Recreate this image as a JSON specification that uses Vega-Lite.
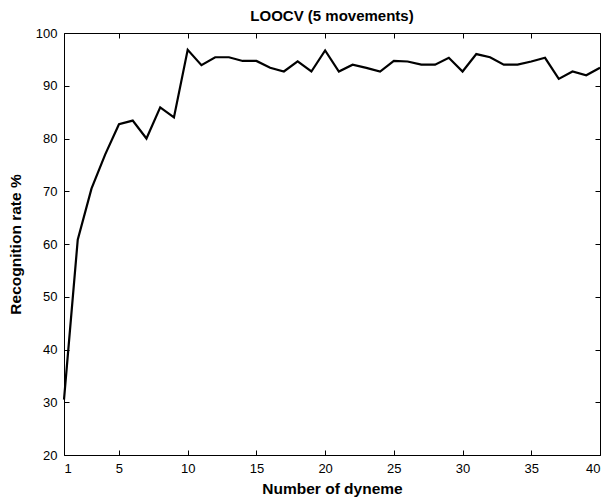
{
  "$schema": "https://vega.github.io/schema/vega-lite/v6.json",
  "autosize": "none",
  "width": 536,
  "height": 422,
  "padding": {"left": 64, "top": 33, "right": 7, "bottom": 45},
  "background": "white",
  "title": {"text": "LOOCV (5 movements)", "font": "Liberation Sans", "fontSize": 15, "fontWeight": "bold", "color": "black", "offset": 3},
  "config": {
    "view": {"stroke": "black", "strokeWidth": 1},
    "axis": {"grid": false, "domain": false, "tickColor": "black", "labelColor": "black", "titleColor": "black", "labelFont": "Liberation Sans", "labelFontSize": 13, "titleFont": "Liberation Sans", "titleFontSize": 15.5, "titleFontWeight": "bold", "tickSize": 5, "offset": -5}
  },
  "data": {"values": [
    {"n": 1, "rate": 30.5},
    {"n": 2, "rate": 60.8},
    {"n": 3, "rate": 70.5},
    {"n": 4, "rate": 77},
    {"n": 5, "rate": 82.7},
    {"n": 6, "rate": 83.4},
    {"n": 7, "rate": 80},
    {"n": 8, "rate": 85.9},
    {"n": 9, "rate": 84},
    {"n": 10, "rate": 96.8},
    {"n": 11, "rate": 93.9},
    {"n": 12, "rate": 95.4},
    {"n": 13, "rate": 95.4},
    {"n": 14, "rate": 94.7},
    {"n": 15, "rate": 94.7},
    {"n": 16, "rate": 93.4},
    {"n": 17, "rate": 92.7},
    {"n": 18, "rate": 94.6},
    {"n": 19, "rate": 92.7},
    {"n": 20, "rate": 96.7},
    {"n": 21, "rate": 92.7},
    {"n": 22, "rate": 94.0},
    {"n": 23, "rate": 93.4},
    {"n": 24, "rate": 92.7},
    {"n": 25, "rate": 94.7},
    {"n": 26, "rate": 94.6},
    {"n": 27, "rate": 94.0},
    {"n": 28, "rate": 94.0},
    {"n": 29, "rate": 95.3},
    {"n": 30, "rate": 92.7},
    {"n": 31, "rate": 96.0},
    {"n": 32, "rate": 95.4},
    {"n": 33, "rate": 94.0},
    {"n": 34, "rate": 94.0},
    {"n": 35, "rate": 94.6},
    {"n": 36, "rate": 95.3},
    {"n": 37, "rate": 91.3},
    {"n": 38, "rate": 92.7},
    {"n": 39, "rate": 92.0},
    {"n": 40, "rate": 93.4}
  ]},
  "layer": [
    {
      "mark": {"type": "line", "color": "black", "strokeWidth": 2.2},
      "encoding": {
        "x": {"field": "n", "type": "quantitative", "scale": {"domain": [1, 40], "nice": false, "zero": false}, "axis": {"values": [1, 5, 10, 15, 20, 25, 30, 35, 40], "title": "Number of dyneme", "titlePadding": 6, "labelPadding": 7}},
        "y": {"field": "rate", "type": "quantitative", "scale": {"domain": [20, 100], "nice": false, "zero": false}, "axis": {"values": [20, 30, 40, 50, 60, 70, 80, 90, 100], "title": "Recognition rate %", "titlePadding": 12, "labelPadding": 7}}
      }
    },
    {
      "mark": {"type": "line", "opacity": 0},
      "encoding": {
        "x": {"field": "n", "type": "quantitative", "scale": {"domain": [1, 40], "nice": false, "zero": false}, "axis": {"orient": "top", "values": [1, 5, 10, 15, 20, 25, 30, 35, 40], "labels": false, "title": null}},
        "y": {"field": "rate", "type": "quantitative", "scale": {"domain": [20, 100], "nice": false, "zero": false}, "axis": {"orient": "right", "values": [20, 30, 40, 50, 60, 70, 80, 90, 100], "labels": false, "title": null}}
      }
    }
  ],
  "resolve": {"axis": {"x": "independent", "y": "independent"}}
}
